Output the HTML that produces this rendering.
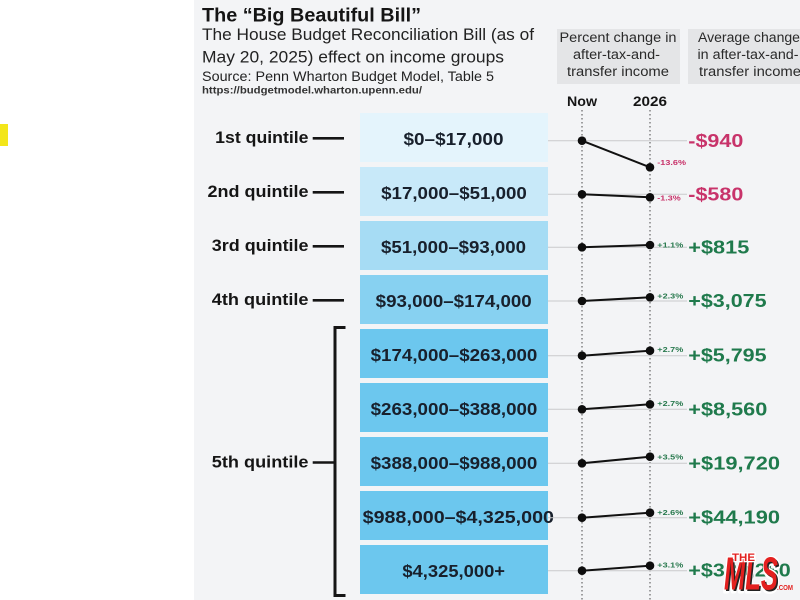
<!DOCTYPE html>
<html><head><meta charset="utf-8"><style>
html,body{margin:0;padding:0;width:800px;height:600px;overflow:hidden;background:#fff}
svg{display:block}
text{font-family:"Liberation Sans",sans-serif}
</style></head><body>
<svg width="800" height="600" viewBox="0 0 800 600" xmlns="http://www.w3.org/2000/svg">
<rect x="0" y="0" width="800" height="600" fill="#ffffff"/>
<rect x="194" y="0" width="606" height="600" fill="#f3f4f6"/>
<rect x="0" y="124" width="8" height="22" fill="#f3e61a"/>

<!-- header -->
<text x="202" y="21.5" font-size="19.5" font-weight="bold" fill="#151515" textLength="219" lengthAdjust="spacingAndGlyphs">The “Big Beautiful Bill”</text>
<text x="202" y="40" font-size="16.5" fill="#222" textLength="332" lengthAdjust="spacingAndGlyphs">The House Budget Reconciliation Bill (as of</text>
<text x="202" y="62.5" font-size="16.5" fill="#222" textLength="302" lengthAdjust="spacingAndGlyphs">May 20, 2025) effect on income groups</text>
<text x="202" y="81" font-size="13.5" fill="#222" textLength="292" lengthAdjust="spacingAndGlyphs">Source: Penn Wharton Budget Model, Table 5</text>
<text x="202" y="93.5" font-size="10.5" font-weight="bold" fill="#333" textLength="220" lengthAdjust="spacingAndGlyphs">https://budgetmodel.wharton.upenn.edu/</text>

<rect x="557" y="29" width="123" height="55" fill="#e4e5e7"/>
<rect x="688" y="29" width="125" height="55" fill="#e4e5e7"/>
<g font-size="13.5" fill="#2a2a2a" text-anchor="middle">
<text x="618" y="42" textLength="117" lengthAdjust="spacingAndGlyphs">Percent change in</text>
<text x="616.5" y="59" textLength="87" lengthAdjust="spacingAndGlyphs">after-tax-and-</text>
<text x="618" y="76" textLength="102" lengthAdjust="spacingAndGlyphs">transfer income</text>
<text x="749" y="42" textLength="102" lengthAdjust="spacingAndGlyphs">Average change</text>
<text x="748" y="59" textLength="101" lengthAdjust="spacingAndGlyphs">in after-tax-and-</text>
<text x="750" y="76" textLength="102" lengthAdjust="spacingAndGlyphs">transfer income</text>
</g>
<text x="582" y="106" font-size="14" font-weight="bold" fill="#151515" text-anchor="middle" textLength="30" lengthAdjust="spacingAndGlyphs">Now</text>
<text x="650" y="106" font-size="14" font-weight="bold" fill="#151515" text-anchor="middle" textLength="34" lengthAdjust="spacingAndGlyphs">2026</text>

<!-- dotted verticals -->
<line x1="582" y1="110" x2="582" y2="600" stroke="#666" stroke-width="1.2" stroke-dasharray="1.5 2.5"/>
<line x1="650" y1="110" x2="650" y2="600" stroke="#666" stroke-width="1.2" stroke-dasharray="1.5 2.5"/>

<!-- boxes -->
<rect x="360" y="113" width="188" height="49" fill="#e4f4fc"/>
<rect x="360" y="167" width="188" height="49" fill="#c8e9f9"/>
<rect x="360" y="221" width="188" height="49" fill="#a6dcf4"/>
<rect x="360" y="275" width="188" height="49" fill="#87d1f1"/>
<rect x="360" y="329" width="188" height="49" fill="#6cc7ee"/>
<rect x="360" y="383" width="188" height="49" fill="#6cc7ee"/>
<rect x="360" y="437" width="188" height="49" fill="#6cc7ee"/>
<rect x="360" y="491" width="188" height="49" fill="#6cc7ee"/>
<rect x="360" y="545" width="188" height="49" fill="#6cc7ee"/>

<g font-size="17.5" font-weight="bold" fill="#18202c" text-anchor="middle">
<text x="453.5" y="145" textLength="100" lengthAdjust="spacingAndGlyphs">$0–$17,000</text>
<text x="454" y="199" textLength="145.7" lengthAdjust="spacingAndGlyphs">$17,000–$51,000</text>
<text x="453.5" y="253" textLength="145" lengthAdjust="spacingAndGlyphs">$51,000–$93,000</text>
<text x="453.7" y="307" textLength="156" lengthAdjust="spacingAndGlyphs">$93,000–$174,000</text>
<text x="454" y="361" textLength="166.7" lengthAdjust="spacingAndGlyphs">$174,000–$263,000</text>
<text x="454" y="415" textLength="166.7" lengthAdjust="spacingAndGlyphs">$263,000–$388,000</text>
<text x="454" y="469" textLength="166.7" lengthAdjust="spacingAndGlyphs">$388,000–$988,000</text>
<text x="458.3" y="523" textLength="191.3" lengthAdjust="spacingAndGlyphs">$988,000–$4,325,000</text>
<text x="453.7" y="577" textLength="102.7" lengthAdjust="spacingAndGlyphs">$4,325,000+</text>
</g>

<!-- left labels -->
<g font-size="16.5" font-weight="bold" fill="#151515" text-anchor="end">
<text x="308.5" y="143" textLength="93.3" lengthAdjust="spacingAndGlyphs">1st quintile</text>
<text x="308.5" y="197" textLength="101" lengthAdjust="spacingAndGlyphs">2nd quintile</text>
<text x="308.5" y="251" textLength="96.7" lengthAdjust="spacingAndGlyphs">3rd quintile</text>
<text x="308.5" y="305" textLength="96.7" lengthAdjust="spacingAndGlyphs">4th quintile</text>
<text x="308.5" y="467.5" textLength="96.7" lengthAdjust="spacingAndGlyphs">5th quintile</text>
</g>
<g stroke="#151515" stroke-width="2.6" fill="none">
<line x1="312.7" y1="138.3" x2="344" y2="138.3"/>
<line x1="312.7" y1="192.3" x2="344" y2="192.3"/>
<line x1="312.7" y1="246.3" x2="344" y2="246.3"/>
<line x1="312.7" y1="300.3" x2="344" y2="300.3"/>
<line x1="312.7" y1="462.5" x2="335" y2="462.5"/>
<path d="M345.5,327.5 H335 V595.5 H345.5" stroke-width="3"/>
</g>

<!-- gray row lines -->
<g stroke="#c9cacc" stroke-width="1">
<line x1="548" y1="140.7" x2="687" y2="140.7"/>
<line x1="548" y1="194.3" x2="687" y2="194.3"/>
<line x1="548" y1="247.3" x2="687" y2="247.3"/>
<line x1="548" y1="301" x2="687" y2="301"/>
<line x1="548" y1="355.7" x2="687" y2="355.7"/>
<line x1="548" y1="409.3" x2="687" y2="409.3"/>
<line x1="548" y1="463.3" x2="687" y2="463.3"/>
<line x1="548" y1="517.7" x2="687" y2="517.7"/>
<line x1="548" y1="570.7" x2="687" y2="570.7"/>
</g>

<!-- slopes -->
<g stroke="#111" stroke-width="2">
<line x1="582" y1="140.7" x2="650" y2="167.3"/>
<line x1="582" y1="194.3" x2="650" y2="197.3"/>
<line x1="582" y1="247.3" x2="650" y2="245"/>
<line x1="582" y1="301" x2="650" y2="297.3"/>
<line x1="582" y1="355.7" x2="650" y2="350.7"/>
<line x1="582" y1="409.3" x2="650" y2="404.3"/>
<line x1="582" y1="463.3" x2="650" y2="456.7"/>
<line x1="582" y1="517.7" x2="650" y2="512.7"/>
<line x1="582" y1="570.7" x2="650" y2="565.7"/>
</g>
<g fill="#0d0d0d">
<circle cx="582" cy="140.7" r="4.3"/><circle cx="650" cy="167.3" r="4.3"/>
<circle cx="582" cy="194.3" r="4.3"/><circle cx="650" cy="197.3" r="4.3"/>
<circle cx="582" cy="247.3" r="4.3"/><circle cx="650" cy="245" r="4.3"/>
<circle cx="582" cy="301" r="4.3"/><circle cx="650" cy="297.3" r="4.3"/>
<circle cx="582" cy="355.7" r="4.3"/><circle cx="650" cy="350.7" r="4.3"/>
<circle cx="582" cy="409.3" r="4.3"/><circle cx="650" cy="404.3" r="4.3"/>
<circle cx="582" cy="463.3" r="4.3"/><circle cx="650" cy="456.7" r="4.3"/>
<circle cx="582" cy="517.7" r="4.3"/><circle cx="650" cy="512.7" r="4.3"/>
<circle cx="582" cy="570.7" r="4.3"/><circle cx="650" cy="565.7" r="4.3"/>
</g>

<!-- percent labels -->
<g font-size="7.5" font-weight="bold">
<text x="657.3" y="165" fill="#c8336a" textLength="28.7" lengthAdjust="spacingAndGlyphs">-13.6%</text>
<text x="657.3" y="200.3" fill="#c8336a" textLength="23.4" lengthAdjust="spacingAndGlyphs">-1.3%</text>
<text x="657.3" y="247.6" fill="#2a7a4f" textLength="26" lengthAdjust="spacingAndGlyphs">+1.1%</text>
<text x="657.3" y="298.6" fill="#2a7a4f" textLength="26" lengthAdjust="spacingAndGlyphs">+2.3%</text>
<text x="657.3" y="351.9" fill="#2a7a4f" textLength="26" lengthAdjust="spacingAndGlyphs">+2.7%</text>
<text x="657.3" y="405.9" fill="#2a7a4f" textLength="26" lengthAdjust="spacingAndGlyphs">+2.7%</text>
<text x="657.3" y="459.3" fill="#2a7a4f" textLength="26" lengthAdjust="spacingAndGlyphs">+3.5%</text>
<text x="657.3" y="514.9" fill="#2a7a4f" textLength="26" lengthAdjust="spacingAndGlyphs">+2.6%</text>
<text x="657.3" y="567.6" fill="#2a7a4f" textLength="26" lengthAdjust="spacingAndGlyphs">+3.1%</text>
</g>

<!-- dollar amounts -->
<g font-size="18.5" font-weight="bold">
<text x="688.3" y="146.8" fill="#c8336a" textLength="55" lengthAdjust="spacingAndGlyphs">-$940</text>
<text x="688.3" y="200.3" fill="#c8336a" textLength="55" lengthAdjust="spacingAndGlyphs">-$580</text>
<text x="688.3" y="253.3" fill="#1f7a4c" textLength="61" lengthAdjust="spacingAndGlyphs">+$815</text>
<text x="688.3" y="307" fill="#1f7a4c" textLength="78.3" lengthAdjust="spacingAndGlyphs">+$3,075</text>
<text x="688.3" y="361.7" fill="#1f7a4c" textLength="78.3" lengthAdjust="spacingAndGlyphs">+$5,795</text>
<text x="688.3" y="415.3" fill="#1f7a4c" textLength="79" lengthAdjust="spacingAndGlyphs">+$8,560</text>
<text x="688.3" y="469.3" fill="#1f7a4c" textLength="91.7" lengthAdjust="spacingAndGlyphs">+$19,720</text>
<text x="688.3" y="523.7" fill="#1f7a4c" textLength="91.7" lengthAdjust="spacingAndGlyphs">+$44,190</text>
<text x="688.3" y="576.7" fill="#1f7a4c" textLength="102.4" lengthAdjust="spacingAndGlyphs">+$389,280</text>
</g>

<!-- logo -->
<g font-weight="bold">
<text x="724" y="591" font-size="46" font-style="italic" fill="#ffffff" stroke="#ffffff" stroke-width="5" stroke-linejoin="round" textLength="55" lengthAdjust="spacingAndGlyphs">MLS</text>
<text x="725.5" y="591" font-size="46" font-style="italic" fill="#222" textLength="54" lengthAdjust="spacingAndGlyphs">MLS</text>
<text x="724" y="589.5" font-size="46" font-style="italic" fill="#e3201f" textLength="54" lengthAdjust="spacingAndGlyphs">MLS</text>
<text x="732" y="561" font-size="11" fill="#e3201f" stroke="#fff" stroke-width="2.5" paint-order="stroke" textLength="23" lengthAdjust="spacingAndGlyphs">THE</text>
<text x="777" y="590" font-size="7" fill="#e3201f" textLength="16" lengthAdjust="spacingAndGlyphs">.COM</text>
</g>
</svg>
</body></html>
